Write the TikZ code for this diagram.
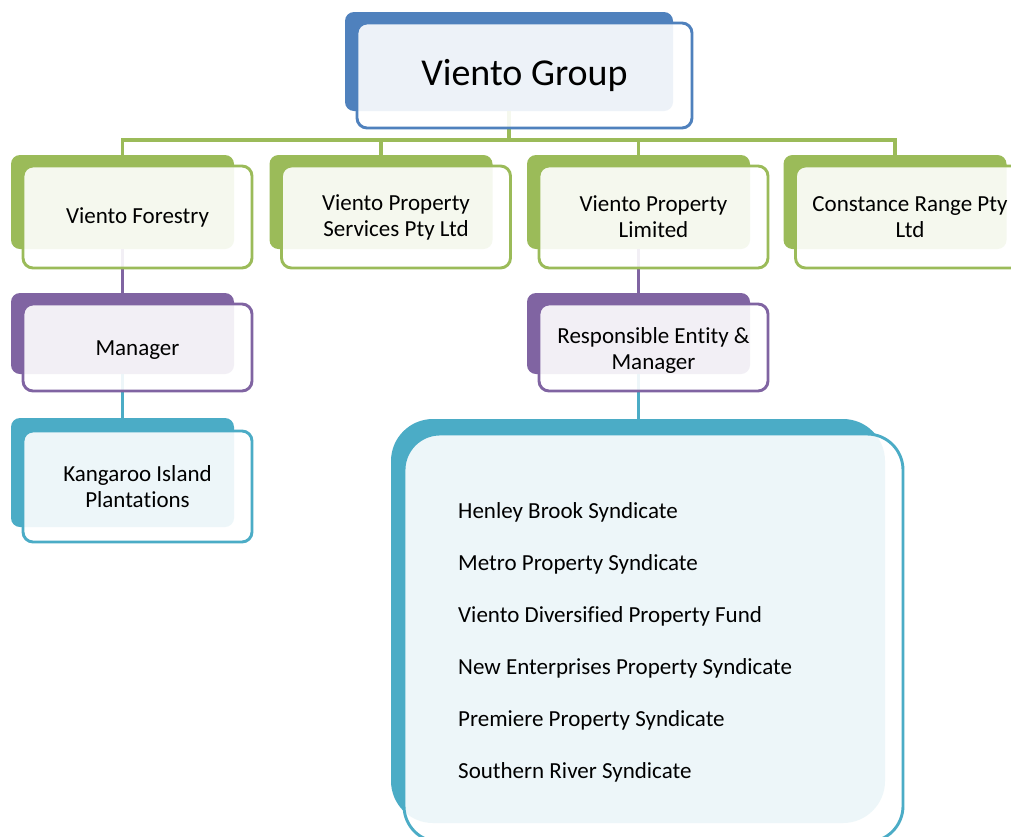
\documentclass[tikz,border=0pt]{standalone}
\usepackage{fontspec}
\setmainfont{Carlito}[Ligatures={NoCommon,NoRare,NoContextual},Contextuals={NoAlternate}]
\definecolor{cblue}{HTML}{4F81BD}
\definecolor{cgreen}{HTML}{9BBB59}
\definecolor{cpurple}{HTML}{8064A2}
\definecolor{cteal}{HTML}{4BACC6}
\begin{document}
\begin{tikzpicture}[x=1pt,y=-1pt,
  back/.style={rectangle, rounded corners=9pt, inner sep=0pt, outer sep=0pt, draw=none},
  front/.style={rectangle, rounded corners=10pt, fill=white, fill opacity=0.9, text opacity=1,
    line width=2.9pt, inner sep=0pt, outer sep=0pt, align=center, text=black,
    font=\fontsize{23}{26}\selectfont},
  label/.style={inner sep=0pt, align=center, text=black, font=\fontsize{23}{26}\selectfont},
  link/.style={line width=3.5pt},
  item/.style={anchor=base west, inner sep=0pt, font=\fontsize{23}{26}\selectfont, text=black}
]
\path[use as bounding box, clip] (0,0) rectangle (1011,836);
\fill[white] (0,0) rectangle (1011,836);

% ---- back (coloured) rectangles ----
\node[back, fill=cblue, minimum width=328pt, minimum height=99pt] (topb) at (509,61.5) {};
\node[back, fill=cgreen, minimum width=223pt, minimum height=94pt] (g1b) at (122.5,202) {};
\node[back, fill=cgreen, minimum width=223pt, minimum height=94pt] (g2b) at (381,202) {};
\node[back, fill=cgreen, minimum width=223pt, minimum height=94pt] (g3b) at (638.5,202) {};
\node[back, fill=cgreen, minimum width=223pt, minimum height=94pt] (g4b) at (895,202) {};
\node[back, fill=cpurple, minimum width=223pt, minimum height=81pt] (m1b) at (122.5,333.5) {};
\node[back, fill=cpurple, minimum width=223pt, minimum height=81pt] (m3b) at (638.5,333.5) {};
\node[back, fill=cteal, minimum width=223pt, minimum height=109pt] (k1b) at (122.5,472.5) {};
\node[back, fill=cteal, rounded corners=42pt, minimum width=494pt, minimum height=404pt] (bigb) at (638,621) {};

% ---- connectors ----
\coordinate (bus) at (509,140);
\draw[link, cgreen] (topb.south) -- (bus);
\draw[link, cgreen] (g1b.north) |- (bus) -| (g4b.north);
\draw[link, cgreen] (g2b.north) -- (g2b.north |- bus);
\draw[link, cgreen] (g3b.north) -- (g3b.north |- bus);
\draw[link, cpurple] (g1b.south) -- (m1b.north);
\draw[link, cpurple] (g3b.south) -- (m3b.north);
\draw[link, cteal] (m1b.south) -- (k1b.north);
\draw[link, cteal] (m3b.south) -- (m3b.south |- bigb.north);

% ---- front (outlined) rectangles ----
\node[front, draw=cblue, minimum width=335pt, minimum height=105pt, font=\fontsize{38}{44}\selectfont] (top) at (524.5,75.5) {Viento Group};
\node[front, draw=cgreen, minimum width=229pt, minimum height=102pt] (g1) at (137.5,217) {Viento Forestry};
\node[front, draw=cgreen, minimum width=229pt, minimum height=102pt] (g2) at (396,217) {Viento Property\\Services Pty Ltd};
\node[front, draw=cgreen, minimum width=229pt, minimum height=102pt] (g3) at (653.5,217) {Viento Property\\Limited};
\node[front, draw=cgreen, minimum width=229pt, minimum height=102pt] (g4) at (910,217) {Constance Range Pty\\Ltd};
\node[front, draw=cpurple, minimum width=229pt, minimum height=87pt] (m1) at (137.5,347.5) {};
\node[front, draw=cpurple, minimum width=229pt, minimum height=87pt] (m3) at (653.5,347.5) {};
\node[front, draw=cteal, minimum width=229pt, minimum height=111pt] (k1) at (137.5,486.5) {Kangaroo Island\\Plantat\kern0pt ions};
\node[front, draw=cteal, rounded corners=36pt, minimum width=499pt, minimum height=408pt] (big) at (653.5,638) {};

% ---- texts of the purple boxes ----
\node[label] (m1t) at (137.5,350) {Manager};
\node[label] (m3t) at (653.5,350.5) {Responsible Entity \&\\Manager};

% ---- list items ----
\node[item] (l1) at (458,518) {Henley Brook Syndicate};
\node[item] (l2) at (458,570) {Metro Property Syndicate};
\node[item] (l3) at (458,622) {Viento Diversif\kern0pt ied Property Fund};
\node[item] (l4) at (458,674) {New Enterprises Property Syndicate};
\node[item] (l5) at (458,726) {Premiere Property Syndicate};
\node[item] (l6) at (458,778) {Southern River Syndicate};
\end{tikzpicture}
\end{document}
